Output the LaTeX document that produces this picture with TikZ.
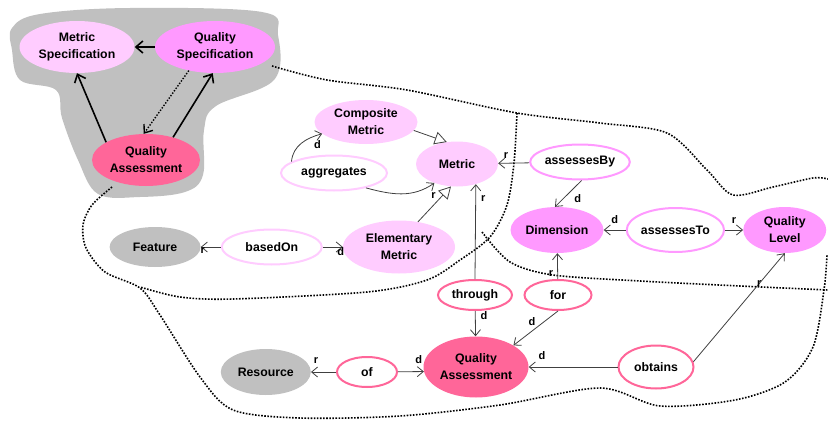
\documentclass[tikz,border=0pt]{standalone}
\usepackage{fontspec}
\setmainfont{Liberation Sans}
\usepackage{tikz}
\usetikzlibrary{positioning,shapes.geometric,arrows.meta}
\definecolor{lpink}{RGB}{255,204,255}
\definecolor{mpink}{RGB}{255,153,255}
\definecolor{hpink}{RGB}{255,102,153}
\definecolor{blobgrey}{RGB}{192,192,192}
\tikzset{cls/.style={ellipse,inner sep=0pt,align=center,font=\bfseries\fontsize{12.3}{17}\selectfont},
	 lcls/.style={cls,fill=lpink},
	 mcls/.style={cls,fill=mpink},
	 hcls/.style={cls,fill=hpink},
	 gcls/.style={cls,fill=blobgrey},
	 rel/.style={cls,fill=white,line width=2pt},
	 conn/.style={draw=black!75,line width=0.8pt,-{Straight Barb[length=6pt,width=10pt]}},
	 gen/.style={draw=black!75,line width=0.8pt,-{Triangle[open,length=12pt,width=13pt]}},
	 bconn/.style={draw=black,line width=1.6pt,-{Straight Barb[length=7pt,width=12pt]}},
	 dconn/.style={draw=black,line width=1.4pt,dash pattern=on 1.4pt off 1.6pt,-{Straight Barb[length=7pt,width=11pt]}},
	 lbl/.style={font=\bfseries\fontsize{11}{13}\selectfont,inner sep=1pt},
	 region/.style={line width=1.6pt,dash pattern=on 1.6pt off 1.5pt},
	 node distance = 20pt
	 }
\begin{document}
\begin{tikzpicture}[x=1pt,y=-1pt] % quality assessment ontology
	\useasboundingbox (0,0) rectangle (828,423);
	\fill[blobgrey] plot[smooth cycle,tension=0.6] coordinates {(12,28) (40,14) (130,8) (262,12) (278,35) (274,80) (216,106) (204,130) (203,175) (185,192) (140,197) (98,194) (78,160) (62,118) (56,90) (20,80) (12,50)};
	\draw[region] plot[smooth] coordinates {(272,66) (327,80) (407,90) (517,113) (600,123) (667,133) (707,170) (733,195) (773,187) (813,178) (828,179)};
	\draw[region] plot[smooth] coordinates {(517,113) (514,163) (507,205) (490,237) (460,260) (427,280) (367,292) (233,299) (180,297) (140,287)};
	\draw[region] plot[smooth] coordinates {(112,187) (92,205) (83,225) (86,248) (105,272) (140,288) (160,315) (200,377) (233,410) (300,418) (400,416) (500,405) (600,388) (660,406) (735,400) (785,382) (813,347) (824,290) (827,255)};
	\draw[region] plot[smooth] coordinates {(482,232) (510,262) (553,275) (640,281) (740,286) (828,290)};
	\node[lcls,minimum width=115pt,minimum height=52pt] (ms) at (77,47) {Metric\\Specification};
	\node[mcls,minimum width=120pt,minimum height=52pt] (qs) at (215,47) {Quality\\Specification};
	\node[hcls,minimum width=108pt,minimum height=52pt] (qa1) at (146,160) {Quality\\Assessment};
	\node[lcls,minimum width=103pt,minimum height=44pt] (cm) at (366,122) {Composite\\Metric};
	\node[lcls,minimum width=82pt,minimum height=45pt] (met) at (457,164) {Metric};
	\node[rel,draw=lpink,minimum width=106pt,minimum height=35pt] (aggr) at (334,173) {aggregates};
	\node[lcls,minimum width=112pt,minimum height=53pt] (em) at (399,247) {Elementary\\Metric};
	\node[rel,draw=lpink,minimum width=100pt,minimum height=35pt] (based) [left= of em] {basedOn};
	\node[gcls,minimum width=91pt,minimum height=40pt] (feat) [left= of based] {Feature};
	\node[rel,draw=mpink,minimum width=96pt,minimum height=35pt] (aby) at (580,162) {assessesBy};
	\node[mcls,minimum width=93pt,minimum height=46pt] (dim) at (557,230) {Dimension};
	\node[rel,draw=mpink,minimum width=97pt,minimum height=44pt] (ato) [right=22pt of dim] {assessesTo};
	\node[mcls,minimum width=83pt,minimum height=46pt] (ql) [right=18pt of ato] {Quality\\Level};
	\node[rel,draw=hpink,minimum width=74pt,minimum height=30pt] (thr) at (475,295) {through};
	\node[rel,draw=hpink,minimum width=67pt,minimum height=30pt] (for) at (558,295) {for};
	\node[hcls,minimum width=105pt,minimum height=61pt] (qa2) at (476,367) {Quality\\Assessment};
	\node[rel,draw=hpink,minimum width=60pt,minimum height=30pt] (of) at (367,372) {of};
	\node[gcls,minimum width=90pt,minimum height=46pt] (res) [left=25pt of of] {Resource};
	\node[rel,draw=hpink,minimum width=75pt,minimum height=43pt] (obt) at (656,367) {obtains};
	\draw[bconn] (qs) to (ms);
	\draw[bconn] (qa1.156) to (ms.south);
	\draw[bconn] (qa1.40) to (qs.-95);
	\draw[dconn] (qs.-138) to (qa1.95);
	\draw[gen] (cm.-10) to (met.115);
	\draw[gen] (em.53) to node[lbl,pos=0.6,above left=1pt] {r} (met.-105);
	\draw[conn] (aggr.165) to[out=85,in=195] node[lbl,pos=0.9,below=4pt] {d} (cm.195);
	\draw[conn] (aggr.-25) to[out=-15,in=215] (met.-140);
	\draw[conn] (aby) to node[lbl,pos=0.75,above=3pt] {r} (met);
	\draw[conn] (aby.-85) to node[lbl,pos=0.7,right=10pt] {d} (dim.95);
	\draw[conn] (ato) to node[lbl,midway,above=5pt] {d} (dim);
	\draw[conn] (ato) to node[lbl,midway,above=5pt] {r} (ql);
	\draw[conn] (based) to node[lbl,pos=0.9,below=-1pt] {r} (feat);
	\draw[conn] (based) to node[lbl,pos=0.9,below=-1pt] {d} (em);
	\draw[conn] (thr.north) to node[lbl,pos=0.85,right=4pt] {r} (met.-47);
	\draw[conn] (thr) to node[lbl,pos=0.2,right=4pt] {d} (qa2);
	\draw[conn] (for) to node[lbl,pos=0.2,left=3pt] {r} (dim);
	\draw[conn] (for.south) to node[lbl,pos=0.3,left=8pt] {d} (qa2.30);
	\draw[conn] (of) to node[lbl,pos=0.8,above=7pt] {r} (res);
	\draw[conn] (of) to node[lbl,pos=0.8,above=7pt] {d} (qa2.185);
	\draw[conn] (obt) to node[lbl,pos=0.85,above=6pt] {d} (qa2);
	\draw[conn] (obt.8) to node[lbl,pos=0.72] {r} (ql.south);
\end{tikzpicture}
\end{document}
